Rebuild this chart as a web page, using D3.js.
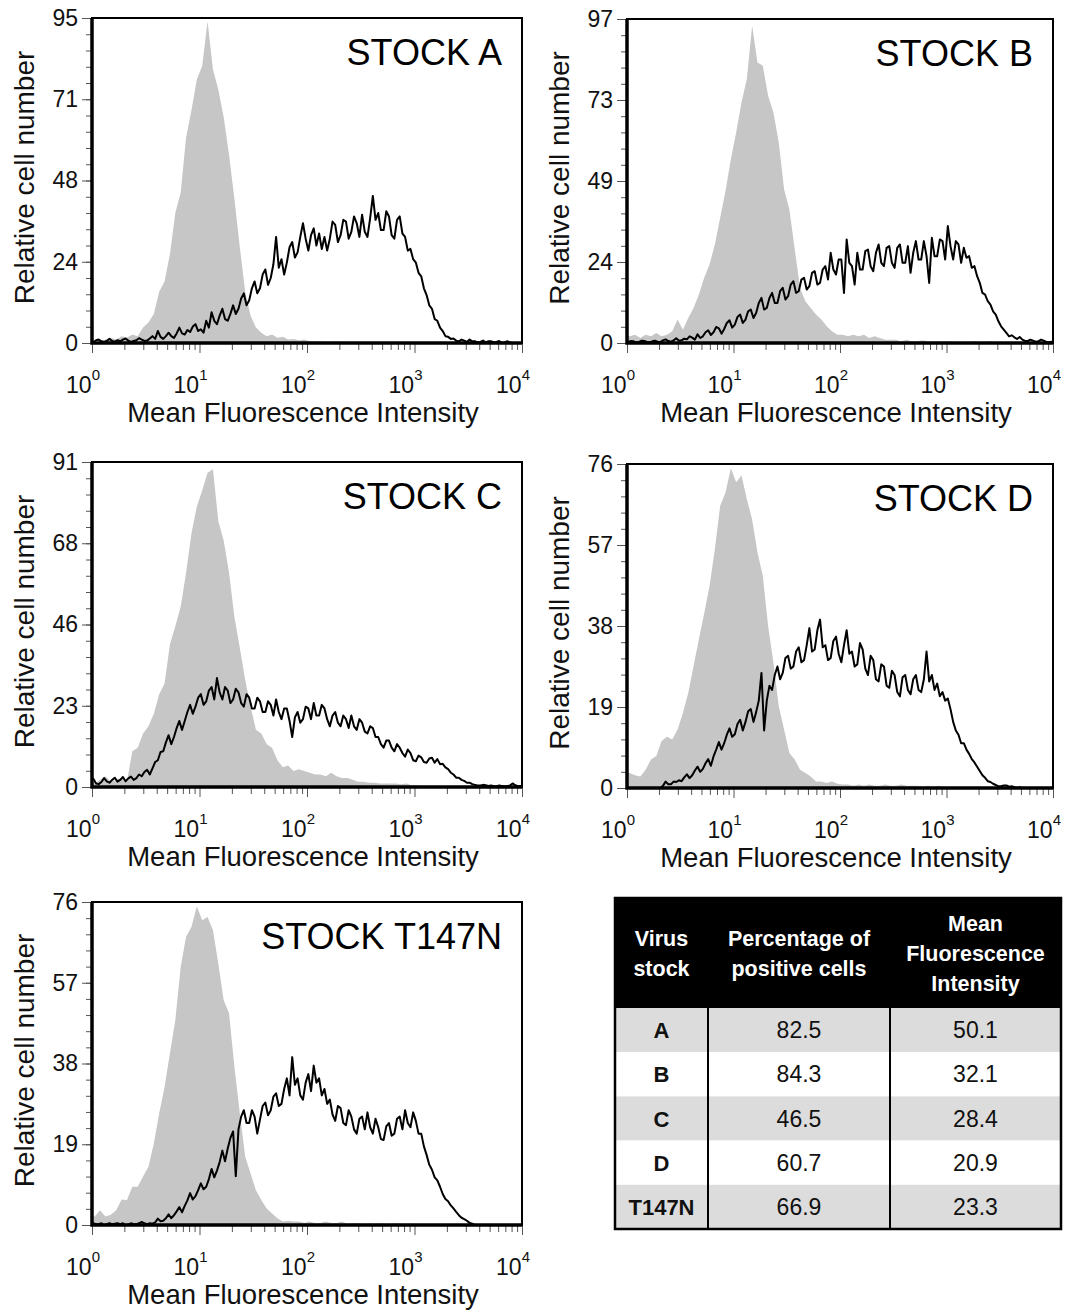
<!DOCTYPE html>
<html>
<head>
<meta charset="utf-8">
<script src="https://cdn.jsdelivr.net/npm/d3@7"></script>
<style>
body { margin: 0; background: #fff; }
svg text { font-family: "Liberation Sans", Arial, sans-serif; }
</style>
</head>
<body>
<script>
// control (grey) histograms: 80 channels over 10^0 .. 10^4
var greyA = [0,0.5,1,1.5,1,2,1.5,2.5,2,4.5, 6,8.5,15,18,26,38,44,60,68,77, 81,94,80,74,66,55,42,28,15,8,
  4.5,3,2,2.5,1.5,1.8,1,1.2,0.8,1, 0.5,0.3,0.5,0,0.3,0.5,0,0.3,0,0.3, 0,0,0,0,0,0,0,0,0,0,
  0,0,0,0,0,0,0,0,0,0, 0,0,0,0,0,0,0,0,0,0];
var greyB = [2,2.5,1.5,2.5,2,3,2,2.5,3.5,7, 4,7.5,10.5,14.5,19.5,23.5,29.5,37.5,45.5,55, 63,72,79,95,84,83,74,69,60,46,
  40,28,16.5,12.5,10.5,8.5,7,5,3.5,2.5, 2.5,2,2.5,2,2.5,1.5,2,1.5,1,1, 1,0.5,1,0.5,0.5,0.8,0.5,0.3,0.5,0.3,
  0.5,0.3,0,0.3,0.3,0.5,0,0.3,0.5,0, 0,0,0,0,0,0,0,0,0,0];
var greyC = [1,2,3,1.5,2,2.5,1.5,10,11,15, 17,20.5,26,29,40,45,50.5,60,71,78.5, 83,88,89,74.5,69,60,47.5,39,30,22.5,
  16,15,12,11,7.5,5.5,6,4.5,5,4.5, 4,3.5,3.5,3,4,3,2.5,2.5,2,1.5, 1.5,1.2,1.2,1,1,1,1,0.8,1,0.5,
  0.5,0.3,0,0,0,0,0,0,0,0, 0,0,0,0,0,0,0,0,0,0];
var greyD = [3.5,3,2.7,4.3,6.7,7.5,11,12,11.4,13.7, 17.6,22.3,28.6,34.9,41,47.4,56,66.2,69.3,75, 71.7,73.3,67.8,63,55.3,49.8,38,29.4,19.2,13.7,
  8.2,6.7,4.3,3.5,2.7,1.5,1.5,1.2,1.5,1, 0.8,0.8,0.5,0.8,0.5,0.8,0.5,0.5,0.8,0.5, 0.5,0.8,0.5,0.5,0.5,0.3,0.5,0.3,0.5,0.3,
  0.3,0,0,0,0,0,0,0,0,0, 0,0,0,0,0,0,0,0,0,0];
var greyT = [2,3.5,2,2.4,3.5,6,5.9,9,9,11.4, 13.7,19.2,26.3,32.5,40.4,48.2,60.7,67.8,70.1,75, 71.7,72.5,69.4,61.5,52.9,49.8,37.2,26.3,16.1,12.1,
  8.2,5.9,3.9,2.7,1.6,0.8,1,0.8,0.8,0.5, 0.8,0.5,0.5,0.8,0.5,0.5,0.8,0.3,0.5,0.5, 0.3,0.5,0.3,0.5,0.3,0.3,0.5,0.3,0.3,0.3,
  0.3,0,0,0,0,0,0,0,0,0, 0,0,0,0,0,0,0,0,0,0];

// infected (black) histograms: 160 channels over 10^0 .. 10^4
var blackA = [0.3,0.8,1,0.5,0.3,0.6,1.2,0.6,0.4,0.8, 0.5,1,1.3,0.7,0.3,0.6,0.8,1.4,1,0.6,
  0.7,1.3,2,1.2,3.5,1.8,1.2,2,3,2, 1.5,2.8,4.5,2.8,2.5,3.8,3.2,4.8,5.5,3.5,
  4,3,6.5,4.5,9,6.5,5.5,8,10,7, 6.5,8.5,11,8.5,10,13,14.5,11,12.5,16,
  18,14.5,16,20,21.5,17,19,23,31,22, 24.5,20,23.5,28,29.5,25,26.5,31,35,30.5,
  27,31.5,33.5,28.5,32,27.5,31,27,30.5,35.5, 34.5,29.5,31.5,36,35.5,30.5,32.5,37,35,31,
  37.5,32.5,31,36.5,43,36,38,33,33,38.5, 37,31.5,30.5,36,37,32,31,27,27.5,24.5,
  23.5,20.5,19.5,16,14,11,10,7,6.5,4.5, 3.5,2,1.8,1.2,1.3,0.7,0.5,1,0.7,0.3,
  1,0.5,0.5,0.2,0.3,0.7,0.2,0.5,0.5,0.2, 0.3,0.6,0,0.2,0.5,0.2,0,0,0,0];
var blackB = [0.3,0.6,0.5,0.2,0.3,0.7,0.6,0.3,0.2,0.5, 0.7,0.4,0.3,0.8,1.1,0.6,0.4,0.8,1.4,0.7,
  0.8,1.3,1.1,2,1.6,1,2.6,1.5,2,3.2, 3.8,2.4,3.2,4.8,4.4,2.8,4.2,6,6.8,4.6,
  5.5,7.8,8.5,6,7,9.5,10,7.5,9,12, 13.5,10,10.5,13.5,15,12,12,15.5,16.5,13,
  14,17.5,18.5,15,15.5,19,19.5,16,17,21, 21.5,17.5,18,22,23,19,27,22,20.5,25,
  25,15,31,24,23,17.5,27,22,22,27.5, 28,23,21.5,27,29.5,24,23,28.5,29,24,
  22.5,28.5,29.5,24,24,29,21,27,30.5,25, 25,30.5,26,18,31.5,26,26,31,30.5,25,
  35,29,25,30.5,29.5,24,28.5,25.5,26,22.5, 23,20,18,15,14.5,12.5,11.5,9.5,8.5,6.5,
  5,4,3,2,2.3,1.7,1.2,1.8,1,0.6, 0.6,1,0.7,0.4,0.5,1,0.7,0.3,0.2,0.4];
var blackC = [2.3,1,0.8,1.4,2.5,1.6,1.2,2,2.6,1.5, 2,2.8,1.6,2.4,2.9,2,2.5,3.5,3,4.2,
  4.8,3.5,5.2,7,7.5,9.8,10,12.5,14.5,12, 14,16.5,18.5,16,18.5,21,23,20.5,22.5,25,
  26,23,24,27,28,24.5,30.5,26.5,24.5,28, 27,23.5,24.5,27.5,26.5,23.5,22.5,26,25,22,
  22,25,24,21,21,24,23,20,24.5,21, 19,22,22,18.5,14,19.5,21,18,19,22.5,
  22,19,23.5,20,20,23,22,19,17,20, 21,18,17,20,19,16.5,20,17,16,19,
  18,15.5,15,17,16.5,14,14,12,11,13, 13,11,10,12,11,9.5,8.5,10.5,9.5,7.5,
  7.2,8.8,8.3,7,6.8,8,8.2,6.8,7.8,6.4, 6.5,5.5,5,4,3.5,2.6,2.6,2,1.7,1.2,
  1.2,0.8,0.6,0.4,0.4,0.6,0.5,0.3,0.4,0.2, 0.2,0.4,0.3,0.2,0.2,0.4,1,0.5,0.2,0.3];
var blackD = [0,0,0,0,0,0,0,0,0,0, 0,0,0,0.5,1.5,0.9,0.9,1.5,1.4,1.8,
  1.6,2.5,3.2,2.3,3,4.1,5,3.8,4.5,5.8, 6.8,5.2,7.4,9,10.8,9,10.5,12.5,14,12,
  12.6,15,16,13.5,15.5,18,18.5,15.5,17.8,20.5, 27,13.5,20.5,24,23,26.5,28.5,25.5,27,30.5,
  31,28,28.5,32,33,29.5,30,33.5,37.5,32, 32.5,37,39.5,33,33.5,30,30.5,34.5,35.5,31.5,
  29.5,33.5,37,31.5,32,28.5,29,34,32.5,28, 26.5,31,30,25.5,25,29,28.5,24,23.5,27.5,
  26.5,22.5,21.5,26,26.5,23,22,25.5,26.5,23, 22.5,25.5,32,25,26.5,23,24.5,21.5,22.5,20.5,
  21,18.5,15.5,13.5,12.5,10.5,10.5,9,8,6.8, 6,5,4,3,2.4,1.6,1.4,1,0.7,0.4,
  0.4,0.6,0.6,0.3,0.4,0.2,0,0.2,0,0, 0,0,0,0,0,0,0,0,0,0];
var blackT = [0.4,0.2,0.2,0.4,0,0.2,0.4,0.2,0.3,0.4, 0.2,0.4,0,0.1,0.4,0.2,0.2,0.4,0.7,0.4,
  0.2,0.4,0.3,0.6,1.5,0.9,1,1.6,2.5,1.6, 2.3,3.2,4.2,3,4.5,5.8,7.5,6,6.8,8.2,
  9.8,8.4,9,10.8,13.2,11.2,12.8,14.8,17.5,15, 18,20.5,22,11.5,22.5,25.5,27,24,24,27,
  25.5,21.5,24.8,28,28.8,25.8,27,30.2,31,28, 28.5,32,34.5,30.5,39.5,33,34.5,30.5,29.5,33.5,
  35.5,31.5,37.5,33.5,34.5,30.5,32,28.5,29.5,26, 24.5,28,27.5,24,23.5,27,25.5,22.5,21.5,25,
  25.5,22.5,26.5,23,21.5,25,23,20.2,20,23.2, 24,21,21.5,25,25.5,22.5,27,24,23,26.5,
  24.5,21.5,21.5,18.5,16.5,14.2,13,11.2,10.5,9, 7.3,6.1,5.6,4.6,3.9,3.1,2.3,1.7,1.4,1,
  0.5,0.3,0,0,0,0,0,0,0,0, 0,0,0,0,0,0,0,0,0,0];

var titles = ["STOCK A", "STOCK B", "STOCK C", "STOCK D", "STOCK T147N"];
var yMaxes = [95, 97, 91, 76, 76];
var yTickLabels = [[0,24,48,71,95], [0,24,49,73,97], [0,23,46,68,91], [0,19,38,57,76], [0,19,38,57,76]];
var xExponents = [0, 1, 2, 3, 4];
var greys = [greyA, greyB, greyC, greyD, greyT];
var blacks = [blackA, blackB, blackC, blackD, blackT];

var tableHeader = [["Virus", "stock"], ["Percentage of", "positive cells"], ["Mean", "Fluorescence", "Intensity"]];
var tableStock = ["A", "B", "C", "D", "T147N"];
var tablePositive = ["82.5", "84.3", "46.5", "60.7", "66.9"];
var tableMFI = ["50.1", "32.1", "28.4", "20.9", "23.3"];

var svg = d3.select("body").append("svg")
    .attr("width", 1067)
    .attr("height", 1316);

// plot frames in page pixels
var boxes = [
    {x0: 92, x1: 522, y0: 18, y1: 343},
    {x0: 627, x1: 1053, y0: 19, y1: 343},
    {x0: 92, x1: 522, y0: 462, y1: 787},
    {x0: 627, x1: 1053, y0: 464, y1: 788},
    {x0: 92, x1: 522, y0: 902, y1: 1225}
];

// channel centres on the log axis, with both ends pinned to the axis limits
function channels(vals) {
    var n = vals.length;
    var pts = vals.map(function(v, i) { return {e: Math.pow(10, 4 * (i + 0.5) / n), v: v}; });
    pts.unshift({e: 1, v: vals[0]});
    pts.push({e: 1e4, v: vals[n - 1]});
    return pts;
}

function drawPanel(p) {
    var b = boxes[p];
    var ymax = yMaxes[p];
    var g = svg.append("g");

    var x = d3.scaleLog().domain([1, 1e4]).range([b.x0, b.x1]);
    var y = d3.scaleLinear().domain([0, ymax]).range([b.y1, b.y0]);

    g.append("path")
        .datum(channels(greys[p]))
        .attr("fill", "#c6c6c6")
        .attr("d", d3.area()
            .x(function(d) { return x(d.e); })
            .y0(y(0))
            .y1(function(d) { return y(d.v); }));

    g.append("path")
        .datum(channels(blacks[p]))
        .attr("fill", "none")
        .attr("stroke", "#000")
        .attr("stroke-width", 2)
        .attr("stroke-linejoin", "round")
        .attr("d", d3.line()
            .x(function(d) { return x(d.e); })
            .y(function(d) { return y(d.v); }));

    // y ticks
    var majorY = d3.range(5).map(function(k) { return ymax * k / 4; });
    var minorY = d3.range(21).map(function(k) { return ymax * k / 20; });
    g.append("g")
        .attr("transform", "translate(" + b.x0 + ",0)")
        .call(d3.axisLeft(y).tickValues(minorY).tickSize(6).tickFormat(""))
        .call(function(a) { a.select(".domain").remove(); a.selectAll("line").attr("stroke", "#555"); });
    g.append("g")
        .attr("transform", "translate(" + b.x0 + ",0)")
        .call(d3.axisLeft(y).tickValues(majorY).tickSize(10).tickPadding(4)
            .tickFormat(function(d, i) { return yTickLabels[p][i]; }))
        .call(function(a) {
            a.select(".domain").remove();
            a.selectAll("line").attr("stroke", "#555");
            a.selectAll("text").attr("font-size", 23).attr("fill", "#111")
                .attr("font-family", "Liberation Sans, Arial, sans-serif");
        });

    // x ticks (log)
    var minorX = [], majorX = xExponents.map(function(e) { return Math.pow(10, e); });
    for (var k = 0; k < 4; k++) {
        for (var m = 2; m < 10; m++) minorX.push(m * Math.pow(10, k));
    }
    g.append("g")
        .attr("transform", "translate(0," + b.y1 + ")")
        .call(d3.axisBottom(x).tickValues(minorX).tickSize(7).tickFormat(""))
        .call(function(a) { a.select(".domain").remove(); a.selectAll("line").attr("stroke", "#555"); });
    g.append("g")
        .attr("transform", "translate(0," + b.y1 + ")")
        .call(d3.axisBottom(x).tickValues(majorX).tickSize(10).tickFormat(""))
        .call(function(a) { a.select(".domain").remove(); a.selectAll("line").attr("stroke", "#555"); });

    xExponents.forEach(function(e) {
        var t = g.append("text")
            .attr("x", x(Math.pow(10, e)) + 8)
            .attr("y", b.y1 + 50)
            .attr("text-anchor", "end")
            .attr("font-size", 23)
            .attr("fill", "#111")
            .text("10");
        t.append("tspan")
            .attr("dy", -13)
            .attr("font-size", 15)
            .text(e);
    });

    // frame
    g.append("rect")
        .attr("x", b.x0).attr("y", b.y0)
        .attr("width", b.x1 - b.x0).attr("height", b.y1 - b.y0)
        .attr("fill", "none").attr("stroke", "#000").attr("stroke-width", 2);
    g.append("path")
        .attr("d", "M" + b.x0 + "," + b.y0 + "V" + b.y1 + "H" + b.x1)
        .attr("fill", "none").attr("stroke", "#000").attr("stroke-width", 3.5);

    g.append("text")
        .attr("x", b.x1 - 20)
        .attr("y", b.y0 + 47)
        .attr("text-anchor", "end")
        .attr("font-size", 36)
        .attr("fill", "#000")
        .text(titles[p]);

    g.append("text")
        .attr("transform", "translate(" + (b.x0 - 58) + "," + ((b.y0 + b.y1) / 2 - 3) + ") rotate(-90)")
        .attr("text-anchor", "middle")
        .attr("font-size", 28)
        .attr("fill", "#111")
        .text("Relative cell number");

    g.append("text")
        .attr("x", (b.x0 + b.x1) / 2 - 4)
        .attr("y", b.y1 + 79)
        .attr("text-anchor", "middle")
        .attr("font-size", 27.5)
        .attr("fill", "#111")
        .text("Mean Fluorescence Intensity");
}

for (var p = 0; p < 5; p++) drawPanel(p);

// summary table
var tx0 = 615, tx1 = 1061, ty0 = 898, tHead = 1008, ty1 = 1229;
var colEdges = [tx0, 708, 890, tx1];
var rowY = d3.scaleBand().domain(tableStock).range([tHead, ty1]);
var tg = svg.append("g");

tg.append("rect").attr("x", tx0).attr("y", ty0).attr("width", tx1 - tx0).attr("height", tHead - ty0).attr("fill", "#000");
tg.selectAll(".row")
    .data(tableStock)
    .enter().append("rect")
    .attr("x", tx0).attr("y", function(d) { return rowY(d); })
    .attr("width", tx1 - tx0).attr("height", rowY.bandwidth())
    .attr("fill", function(d, i) { return i % 2 == 0 ? "#dcdcdc" : "#fff"; });

tableHeader.forEach(function(lines, c) {
    var cx = (colEdges[c] + colEdges[c + 1]) / 2;
    var mid = (ty0 + tHead) / 2 + 8;
    lines.forEach(function(s, j) {
        tg.append("text")
            .attr("x", cx)
            .attr("y", mid + (j - (lines.length - 1) / 2) * 30)
            .attr("text-anchor", "middle")
            .attr("font-size", 21.5)
            .attr("font-weight", "bold")
            .attr("fill", "#fff")
            .text(s);
    });
});

var cols = [tableStock, tablePositive, tableMFI];
cols.forEach(function(vals, c) {
    var cx = (colEdges[c] + colEdges[c + 1]) / 2;
    tg.selectAll(".c" + c)
        .data(vals)
        .enter().append("text")
        .attr("x", cx)
        .attr("y", function(d, i) { return rowY(tableStock[i]) + rowY.bandwidth() / 2 + 8; })
        .attr("text-anchor", "middle")
        .attr("font-size", c == 0 ? 22 : 23)
        .attr("font-weight", c == 0 ? "bold" : "normal")
        .attr("fill", "#111")
        .text(function(d) { return d; });
});

[1, 2].forEach(function(c) {
    tg.append("line")
        .attr("x1", colEdges[c]).attr("x2", colEdges[c])
        .attr("y1", tHead).attr("y2", ty1)
        .attr("stroke", "#000").attr("stroke-width", 2);
});
tg.append("rect")
    .attr("x", tx0).attr("y", ty0).attr("width", tx1 - tx0).attr("height", ty1 - ty0)
    .attr("fill", "none").attr("stroke", "#000").attr("stroke-width", 2.5);
</script>
</body>
</html>
